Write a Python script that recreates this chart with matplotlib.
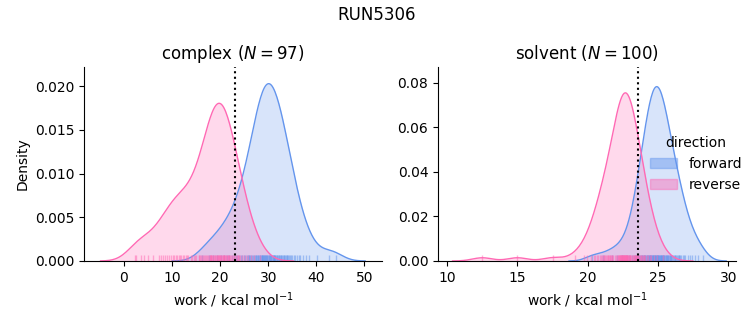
import numpy as np
import matplotlib
matplotlib.use("Agg")
import matplotlib.pyplot as plt
from matplotlib.patches import Patch

complex_forward = [
    16.2, 17.6, 18.5, 19.4, 20.1, 20.8, 21.4, 21.9, 22.4, 22.8,
    23.2, 23.6, 24.0, 24.3, 24.6, 24.9,
    25.2, 25.5, 25.7, 25.9, 26.1, 26.3, 26.5, 26.7, 26.9,
    27.1, 27.2, 27.4, 27.5, 27.7, 27.8, 27.9, 28.1, 28.2, 28.3, 28.4, 28.6, 28.7, 28.8, 28.9,
    29.0, 29.1, 29.2, 29.3, 29.4, 29.5, 29.6, 29.7, 29.8, 29.9, 30.1, 30.2, 30.3, 30.4, 30.5, 30.6, 30.8, 30.9,
    31.0, 31.1, 31.2, 31.3, 31.4, 31.5, 31.7, 31.8, 31.9, 32.1, 32.2, 32.3, 32.5, 32.6, 32.7, 32.9,
    33.0, 33.2, 33.3, 33.5, 33.7, 33.8, 34.0, 34.2, 34.4, 34.6, 34.8,
    35.0, 35.3, 35.6, 35.9, 36.3, 36.7,
    37.3, 37.9, 38.4, 40.2, 42.6, 44.0,
]
complex_reverse = [
    2.2, 2.5, 3.5, 4.2, 5.0, 6.1, 7.2, 7.7,
    8.1, 8.5, 8.9, 9.3, 9.7,
    10.1, 10.4, 10.8, 11.1, 11.4, 11.7, 11.9,
    12.2, 12.5, 12.8, 13.1, 13.4, 13.9,
    14.2, 14.5, 14.7, 15.0, 15.5, 15.7, 15.9,
    16.1, 16.3, 16.5, 16.7, 16.9, 17.1, 17.3, 17.5, 17.6, 17.8, 17.9,
    18.0, 18.1, 18.2, 18.4, 18.5, 18.6, 18.8, 18.9, 19.0, 19.1, 19.3, 19.4, 19.5, 19.6, 19.7, 19.8, 19.9,
    20.0, 20.1, 20.2, 20.3, 20.5, 20.6, 20.7, 20.8, 20.9, 21.0, 21.2, 21.3, 21.4, 21.6, 21.7, 21.8, 21.9,
    22.1, 22.3, 22.5, 22.7, 22.9, 23.1, 23.3, 23.5, 23.7, 23.8, 23.9,
    24.2, 24.6, 25.0, 25.4, 25.8, 26.4, 27.1, 28.2,
]
solvent_forward = [
    20.3, 21.1, 21.7, 22.1, 22.4, 22.8, 22.9,
    23.15, 23.25, 23.35, 23.45,
    23.52, 23.58, 23.64, 23.7, 23.76, 23.82, 23.87, 23.92, 23.97,
    24.02, 24.06, 24.1, 24.14, 24.18, 24.21, 24.25, 24.28, 24.32, 24.35, 24.39, 24.42, 24.45, 24.48,
    24.51, 24.54, 24.57, 24.6, 24.63, 24.66, 24.69, 24.72, 24.75, 24.78, 24.81, 24.84, 24.87, 24.9,
    24.93, 24.95, 24.96, 24.98,
    25.02, 25.05, 25.08, 25.11, 25.14, 25.17, 25.2, 25.23, 25.26, 25.29, 25.32, 25.35, 25.38, 25.42, 25.45, 25.48,
    25.53, 25.57, 25.61, 25.65, 25.69, 25.73, 25.77, 25.81, 25.85, 25.89, 25.93, 25.97,
    26.05, 26.11, 26.17, 26.23, 26.29, 26.35, 26.41, 26.47, 26.5,
    26.56, 26.65, 26.74, 26.83, 26.92,
    27.1, 27.25, 27.4, 27.6, 27.85, 28.2,
]
solvent_reverse = [
    12.5, 15.0, 17.5, 19.1, 19.7,
    19.96, 20.24, 20.41, 20.52, 20.63, 20.74, 20.85, 20.93, 20.99, 21.05,
    21.12, 21.18, 21.24, 21.31, 21.36, 21.42, 21.47, 21.52, 21.55, 21.59,
    21.67, 21.72, 21.75, 21.82, 21.9, 21.98, 22.06, 22.12, 22.17, 22.21,
    22.25, 22.28, 22.3, 22.31, 22.34, 22.36, 22.38, 22.4, 22.42, 22.44,
    22.46, 22.48, 22.5, 22.52, 22.54,
    22.56, 22.58, 22.6, 22.62, 22.64, 22.66, 22.68, 22.7, 22.72, 22.74,
    22.76, 22.79, 22.82, 22.85, 22.88, 22.91, 22.94, 22.97, 23.0, 23.03,
    23.08, 23.13, 23.18, 23.23, 23.28, 23.32, 23.36, 23.38, 23.41, 23.45, 23.49, 23.53,
    23.58, 23.6, 23.63, 23.69, 23.75, 23.8, 23.86, 23.92, 23.97, 24.02,
    24.1, 24.2, 24.3, 24.4, 24.5, 24.7, 24.95, 25.35,
]
phases = ["complex", "solvent"]
directions = ["forward", "reverse"]
free_energy = {"complex": 23.1, "solvent": 23.55}  # dotted line
xlims = {"complex": (-8.3, 53.7), "solvent": (9.35, 30.55)}
ylims = {"complex": (0, 0.0222), "solvent": (0, 0.087)}
colors = {"forward": "#6495ED", "reverse": "#FF69B4"}

data = {
    ("complex", "forward"): np.array(complex_forward),
    ("complex", "reverse"): np.array(complex_reverse),
    ("solvent", "forward"): np.array(solvent_forward),
    ("solvent", "reverse"): np.array(solvent_reverse),
}
n_total = sum(len(v) for v in data.values())  # common norm over everything


def kde(x, cut=3, gridsize=200):
    bw = x.std(ddof=1) * len(x) ** (-1 / 5)  # scott
    grid = np.linspace(x.min() - cut * bw, x.max() + cut * bw, gridsize)
    z = (grid[:, None] - x[None, :]) / bw
    dens = np.exp(-0.5 * z ** 2).sum(axis=1) / (len(x) * bw * np.sqrt(2 * np.pi))
    return grid, dens * len(x) / n_total


fig = plt.figure(figsize=(7.53, 3.25), dpi=100)
axes = [fig.add_axes([0.1116, 0.197, 0.396, 0.597]),
        fig.add_axes([0.5817, 0.197, 0.396, 0.597])]

for ax, phase in zip(axes, phases):
    for d in directions:
        x = data[(phase, d)]
        g, y = kde(x)
        ax.fill_between(g, 0, y, color=colors[d], alpha=0.25, lw=0)
        ax.plot(g, y, color=colors[d], lw=1)
        ax.vlines(x, 0, 0.03, color=colors[d], alpha=0.5, lw=1,
                  transform=ax.get_xaxis_transform())
    ax.axvline(free_energy[phase], color="k", ls=":", lw=1.5)
    ax.set_xlim(*xlims[phase])
    ax.set_ylim(*ylims[phase])
    ax.set_title(f"{phase} ($N = {len(data[(phase, 'forward')])}$)", fontsize=12)
    ax.set_xlabel("work / kcal mol$^{-1}$")
    ax.spines["top"].set_visible(False)
    ax.spines["right"].set_visible(False)

axes[0].set_ylabel("Density")
axes[1].set_xticks([10, 15, 20, 25, 30])

handles = [Patch(facecolor=colors[d], edgecolor=colors[d], alpha=0.45) for d in directions]
fig.legend(handles, directions, title="direction", frameon=False,
           loc="upper left", bbox_to_anchor=(0.846, 0.62), fontsize=10, title_fontsize=10)
fig.suptitle("RUN5306", fontsize=12)

fig.savefig("out.png", dpi=100)
